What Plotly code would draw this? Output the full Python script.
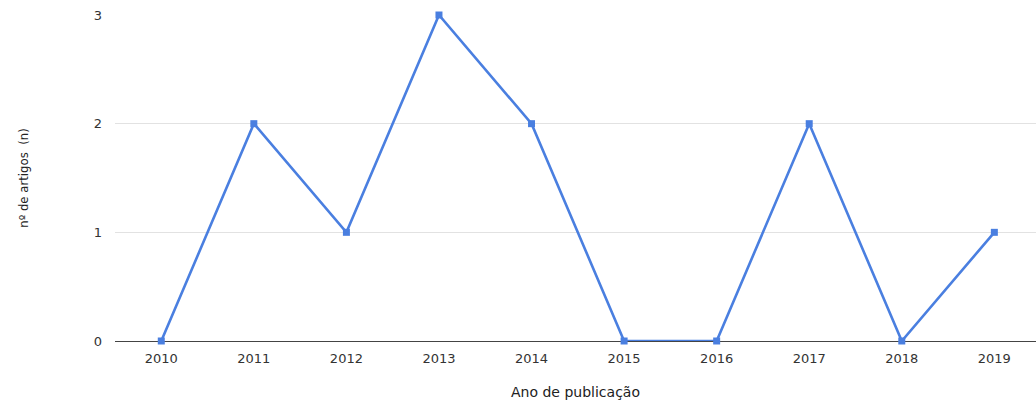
import plotly.graph_objects as go

years = ["2010", "2011", "2012", "2013", "2014", "2015", "2016", "2017", "2018", "2019"]
articles = [0, 2, 1, 3, 2, 0, 0, 2, 0, 1]

tick_font = dict(family="DejaVu Sans, Verdana, sans-serif", size=13, color="#333333")

fig = go.Figure(
    go.Scatter(
        x=years,
        y=articles,
        mode="lines+markers",
        line=dict(color="#4a7fe0", width=2.6),
        marker=dict(symbol="square", size=7, color="#4a7fe0"),
        cliponaxis=False,
        showlegend=False,
    )
)

fig.update_layout(
    width=1036,
    height=405,
    margin=dict(l=115, r=0, t=15, b=64),
    paper_bgcolor="white",
    plot_bgcolor="white",
    font=dict(family="DejaVu Sans, Verdana, sans-serif", color="#333333", size=13),
    xaxis=dict(
        type="category",
        range=[-0.5, 9.45],
        showgrid=False,
        ticks="",
        ticklabelstandoff=8,
        tickfont=tick_font,
        title=dict(
            text="Ano de publicação",
            font=dict(family="DejaVu Sans, Verdana, sans-serif", size=14, color="#222222"),
            standoff=22,
        ),
        zeroline=False,
        showline=False,
    ),
    yaxis=dict(
        range=[0, 3],
        tickvals=[0, 1, 2, 3],
        showgrid=True,
        gridcolor="#e2e2e2",
        gridwidth=1,
        zeroline=True,
        zerolinecolor="#444444",
        zerolinewidth=1,
        ticks="",
        ticklabelstandoff=12,
        tickfont=tick_font,
        title=dict(
            text="nº de artigos  (n)",
            font=dict(size=13, color="#222222",
                      family="Liberation Sans Narrow, DejaVu Sans Condensed, Arial Narrow, sans-serif"),
            standoff=62,
        ),
    ),
)

fig.write_html("out.html")
